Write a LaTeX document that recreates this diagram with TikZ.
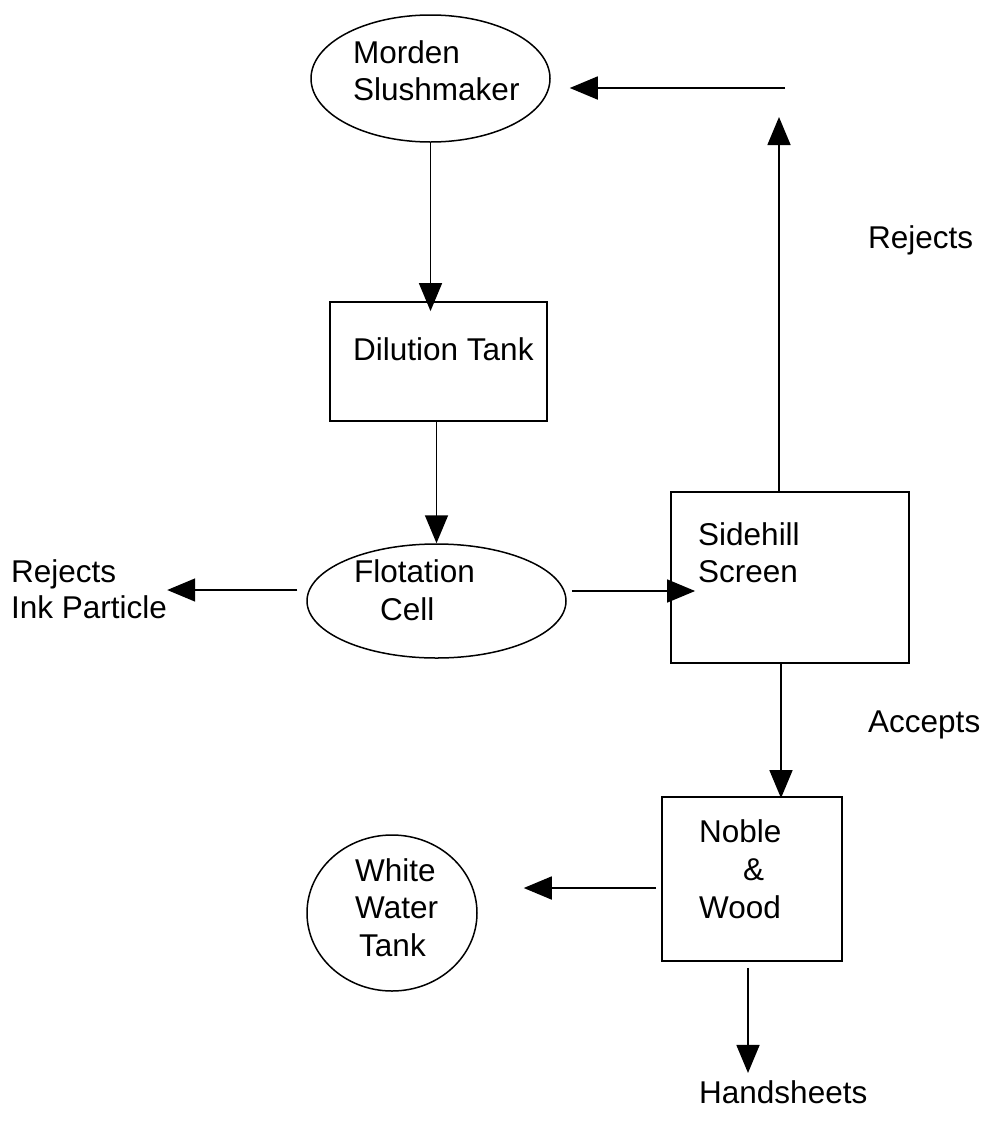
\documentclass[tikz,border=0pt]{standalone}
\usepackage{fontspec}
\setmainfont{Liberation Sans}
\usetikzlibrary{arrows.meta,shapes.geometric}
\begin{document}
\begin{tikzpicture}[x=1pt,y=1pt,
  lbl/.style={anchor=base west,inner sep=0pt,font=\fontsize{31.5}{38}\selectfont},
  boxnode/.style={draw,line width=1.8pt,rectangle,inner sep=0pt},
  ellnode/.style={draw,line width=1.5pt,ellipse,inner sep=0pt},
  arr/.style={line width=1.6pt,-{Triangle[length=28pt,width=23pt]}}]
\fill[white] (0,0) rectangle (993,-1125);
\useasboundingbox (0,0) rectangle (993,-1125);

% shapes
\node[ellnode,minimum width=239pt,minimum height=127pt] (Morden) at (430.5,-78.5) {};
\node[boxnode,minimum width=217pt,minimum height=119pt] (Dilution) at (438.5,-361.5) {};
\node[ellnode,minimum width=259pt,minimum height=114pt] (Flotation) at (436.5,-601) {};
\node[boxnode,minimum width=238pt,minimum height=171pt] (Sidehill) at (790,-577.5) {};
\node[boxnode,minimum width=180pt,minimum height=164pt] (Noble) at (752,-879) {};
\node[ellnode,minimum width=170pt,minimum height=156pt] (White) at (392,-913) {};

% texts
\node[lbl] (mordenA) at (353,-63) {Morden};
\node[lbl] (mordenB) at (353,-100) {Slushmaker};
\node[lbl] (dilA) at (353,-360) {Dilution Tank};
\node[lbl] (flA) at (354,-582) {Flotation};
\node[lbl] (flB) at (380,-620) {Cell};
\node[lbl] (shA) at (698,-545) {Sidehill};
\node[lbl] (shB) at (698,-582) {Screen};
\node[lbl] (nwA) at (699,-842) {Noble};
\node[lbl] (nwB) at (743,-880) {\&};
\node[lbl] (nwC) at (699,-918) {Wood};
\node[lbl] (wwA) at (355,-881) {White};
\node[lbl] (wwB) at (355,-918) {Water};
\node[lbl] (wwC) at (359,-956) {Tank};
\node[lbl] (rejA) at (11,-582) {Rejects};
\node[lbl] (rejB) at (11,-618) {Ink Particle};
\node[lbl] (rejTop) at (868,-248) {Rejects};
\node[lbl] (acc) at (868,-732) {Accepts};
\node[lbl] (hs) at (699,-1103) {Handsheets};

% connectors
\draw[arr,shorten >=-10pt] (Morden.south) -- (Morden.south |- Dilution.north);
\draw[arr] (Flotation.north |- Dilution.south) -- (Flotation.north);
\draw[arr] ([shift={(-9,11)}]Flotation.west) coordinate (flw) -- (flw -| rejB.east);
\draw[arr,shorten >=-25pt] ([shift={(5,10)}]Flotation.east) coordinate (fle) -- (fle -| Sidehill.west);
\coordinate (upEnd) at (779,-117);
\draw[arr] ([xshift=-11]Sidehill.north) -- ([xshift=-11]Sidehill.north |- upEnd);
\coordinate (retStart) at (785,-88);
\draw[arr] (retStart) -- ([xshift=19]Morden.east |- retStart);
\draw[arr,shorten >=-2pt] ([xshift=-9]Sidehill.south) -- ([xshift=-9]Sidehill.south |- Noble.north);
\draw[arr] ([shift={(-5,-9)}]Noble.west) coordinate (nww) -- ([xshift=46]White.east |- nww);
\draw[arr,shorten >=7pt] ([shift={(-4,-6)}]Noble.south) -- ([xshift=-4]Noble.south |- hs.north);
\end{tikzpicture}
\end{document}
